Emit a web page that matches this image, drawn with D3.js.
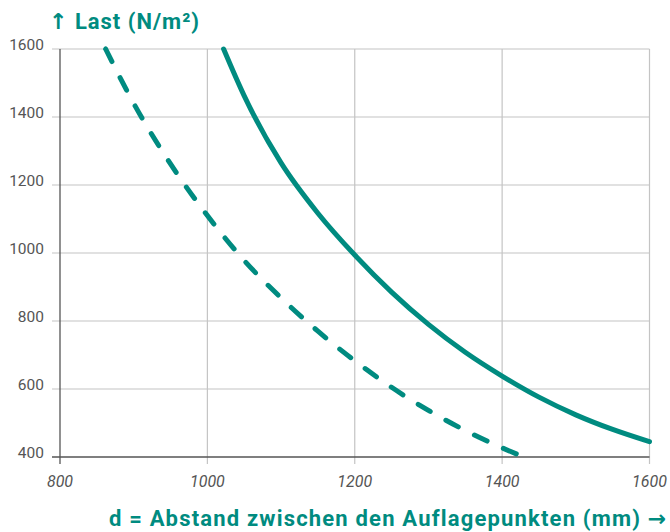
<!DOCTYPE html>
<html>
<head>
<meta charset="utf-8">
<script src="https://cdn.jsdelivr.net/npm/d3@7"></script>
<style>
  html, body { margin: 0; padding: 0; background: #fff; }
  svg { display: block; }
</style>
</head>
<body>
<svg id="chart" width="670" height="532"></svg>
<script>
// ---- data ----
const xTicks = [800, 1000, 1200, 1400, 1600];
const yTicks = [400, 600, 800, 1000, 1200, 1400, 1600];
const solidD    = [1022, 1050, 1100, 1150, 1200, 1250, 1300, 1350, 1400, 1450, 1500, 1550, 1600];
const solidLoad = [1600, 1462, 1265, 1117,  994,  885,  790,  708,  638,  576,  524,  481,  445];
const dashD     = [862, 900, 950, 1000, 1050, 1100, 1150, 1200, 1250, 1300, 1350, 1400, 1424];
const dashLoad  = [1600, 1440, 1262, 1110, 978, 868, 770, 683, 605, 537, 478, 427, 405];
const yTitleArrow = "↑";
const yTitle = " Last (N/m²)";
const xTitle = "d = Abstand zwischen den Auflagepunkten (mm) ";
const xTitleArrow = "→";

const teal = "#008b80";
const svg = d3.select("#chart");
const x = d3.scaleLinear().domain([800, 1600]).range([60, 649.5]);
const y = d3.scaleLinear().domain([400, 1600]).range([457, 49]);

// horizontal grid
svg.append("g").selectAll("line").data(yTicks.filter(v => v !== 400)).join("line")
  .attr("x1", 52).attr("x2", x(1600))
  .attr("y1", d => y(d)).attr("y2", d => y(d))
  .attr("stroke", "#c4c4c4").attr("stroke-width", 1.2);
// vertical grid
svg.append("g").selectAll("line").data(xTicks.filter(v => v !== 800)).join("line")
  .attr("x1", d => x(d)).attr("x2", d => x(d))
  .attr("y1", y(1600)).attr("y2", 464)
  .attr("stroke", "#c4c4c4").attr("stroke-width", 1.2);
// axes lines
svg.append("line").attr("x1", 52).attr("x2", x(1600)).attr("y1", y(400)).attr("y2", y(400))
  .attr("stroke", "#555").attr("stroke-width", 1.3);
svg.append("line").attr("x1", x(800)).attr("x2", x(800)).attr("y1", y(1600)).attr("y2", 464)
  .attr("stroke", "#555").attr("stroke-width", 1.3);

// y labels
svg.append("g").selectAll("text").data(yTicks).join("text")
  .attr("x", 44).attr("y", d => y(d) + 0.5)
  .attr("text-anchor", "end")
  .attr("font-family", "Roboto, sans-serif").attr("font-size", 15.5)
  .attr("fill", "#555")
  .text(d => d);
// x labels
svg.append("g").selectAll("text").data(xTicks).join("text")
  .attr("x", d => x(d)).attr("y", 487)
  .attr("text-anchor", "middle")
  .attr("font-family", "Roboto, sans-serif").attr("font-size", 16).attr("font-style", "italic")
  .attr("fill", "#555")
  .text(d => d);

// lines
const line = d3.line().x(d => x(d[0])).y(d => y(d[1])).curve(d3.curveMonotoneX);
svg.append("path").attr("d", line(d3.zip(solidD, solidLoad)))
  .attr("fill", "none").attr("stroke", teal).attr("stroke-width", 5).attr("stroke-linecap", "round");
svg.append("path").attr("d", line(d3.zip(dashD, dashLoad)))
  .attr("fill", "none").attr("stroke", teal).attr("stroke-width", 5).attr("stroke-linecap", "round")
  .attr("stroke-dasharray", "14,18");

// titles
function fitText(sel, target) {
  const n = sel.text().length;
  const len = sel.node().getComputedTextLength();
  sel.attr("letter-spacing", ((target - len) / n).toFixed(2));
}
const yt = svg.append("text").attr("x", 49).attr("y", 29)
  .attr("font-family", "Roboto, sans-serif").attr("font-weight", "bold").attr("font-size", 22)
  .attr("fill", teal);
yt.append("tspan").attr("font-family", "DejaVu Sans, sans-serif").text(yTitleArrow);
yt.append("tspan").text(yTitle);
fitText(yt, 151);

const xt = svg.append("text").attr("x", 109).attr("y", 526)
  .attr("font-family", "Roboto, sans-serif").attr("font-weight", "bold").attr("font-size", 22)
  .attr("fill", teal);
xt.append("tspan").text(xTitle);
xt.append("tspan").attr("font-family", "DejaVu Sans, sans-serif").text(xTitleArrow);
fitText(xt, 558);
</script>
</body>
</html>
